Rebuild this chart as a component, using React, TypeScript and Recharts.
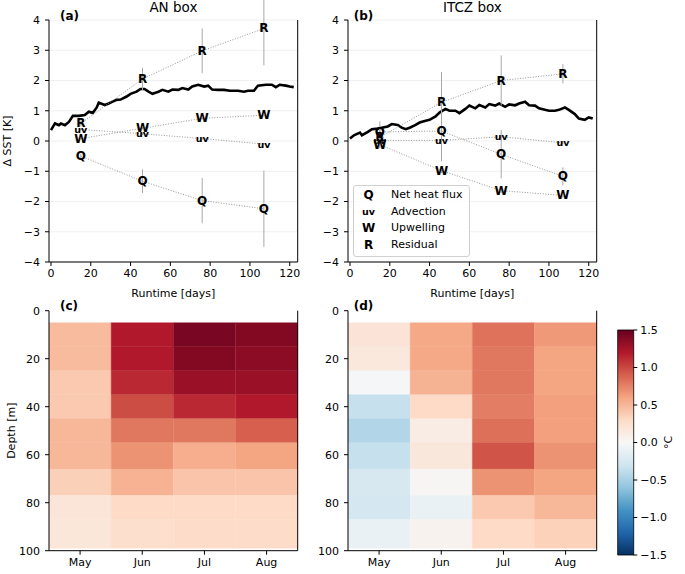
import React from "react";
import {
  ComposedChart,
  BarChart,
  Bar,
  Cell,
  Line,
  XAxis,
  YAxis,
  CartesianGrid,
  ErrorBar,
  Legend,
} from "recharts";

// ---- top panels: SST change (K) vs runtime (days) ----
const sstDaysAN = [0, 2, 4, 5, 7, 9, 11, 14, 17, 19, 21, 23, 24, 27, 29, 31, 33, 35, 38, 40, 43, 45, 47, 49, 51, 54, 56, 59, 61, 64, 66, 69, 71, 74, 77, 79, 81, 84, 87, 90, 94, 97, 99, 102, 104, 108, 111, 113, 115, 118, 120, 122];
const sstAN = [0.36, 0.58, 0.52, 0.58, 0.52, 0.63, 0.83, 0.83, 0.86, 0.97, 0.93, 1.11, 1.27, 1.19, 1.24, 1.3, 1.36, 1.37, 1.47, 1.56, 1.63, 1.72, 1.72, 1.63, 1.56, 1.63, 1.69, 1.63, 1.7, 1.69, 1.75, 1.7, 1.8, 1.86, 1.8, 1.83, 1.7, 1.69, 1.69, 1.66, 1.66, 1.63, 1.66, 1.66, 1.83, 1.86, 1.86, 1.78, 1.86, 1.83, 1.8, 1.78];

const sstDaysITCZ = [0, 2, 5, 6, 9, 11, 14, 16, 19, 21, 24, 26, 28, 30, 33, 35, 38, 40, 43, 45, 48, 50, 53, 55, 58, 60, 63, 65, 68, 70, 73, 75, 78, 80, 83, 85, 88, 90, 93, 95, 98, 100, 103, 105, 108, 110, 113, 115, 118, 120, 122];
const sstITCZ = [0.08, 0.19, 0.28, 0.19, 0.3, 0.39, 0.41, 0.44, 0.48, 0.56, 0.53, 0.44, 0.39, 0.44, 0.53, 0.61, 0.67, 0.7, 0.81, 0.94, 1.06, 1.0, 1.0, 0.92, 1.06, 1.17, 1.08, 1.19, 1.11, 1.22, 1.17, 1.24, 1.13, 1.21, 1.18, 1.24, 1.3, 1.18, 1.17, 1.08, 1.03, 1.0, 1.0, 1.03, 1.11, 1.03, 0.89, 0.74, 0.7, 0.78, 0.74];

// budget terms at mid-month days
const monthDays = [15, 46, 76, 107];

const anQ = [-0.5, -1.33, -1.97, -2.24];
const anQErr = [0.08, 0.39, 0.75, 1.26];
const anUV = [0.38, 0.24, 0.08, -0.1];
const anUVErr = [0.03, 0.04, 0.04, 0.04];
const anW = [0.08, 0.42, 0.75, 0.85];
const anWErr = [0.03, 0.04, 0.04, 0.04];
const anR = [0.58, 2.05, 2.98, 3.72];
const anRErr = [0.1, 0.37, 0.74, 1.22];

const itczQ = [0.3, 0.33, -0.44, -1.17];
const itczQErr = [0.35, 1.0, 0.8, 0.3];
const itczUV = [0.02, 0.02, 0.14, -0.06];
const itczUVErr = [0.05, 0.05, 0.05, 0.05];
const itczW = [-0.12, -0.98, -1.64, -1.8];
const itczWErr = [0.12, 0.08, 0.08, 0.08];
const itczR = [0.12, 1.28, 2.0, 2.22];
const itczRErr = [0.3, 1.0, 0.83, 0.32];

const termMarkers = ["Q", "uv", "W", "R"];
const termNames = ["Net heat flux", "Advection", "Upwelling", "Residual"];

const dayTicks = [0, 20, 40, 60, 80, 100, 120];
const sstTicks = [-4, -3, -2, -1, 0, 1, 2, 3, 4];

// ---- bottom panels: temperature change (°C) by depth and month ----
const months = ["May", "Jun", "Jul", "Aug"];
const layerEdges = [5, 15, 25, 35, 45, 55, 66, 77, 87, 99];
const depthTicks = [0, 20, 40, 60, 80, 100];

const anMay = [0.48, 0.48, 0.4, 0.4, 0.5, 0.5, 0.36, 0.19, 0.18];
const anJun = [1.2, 1.2, 1.13, 0.98, 0.8, 0.68, 0.53, 0.3, 0.26];
const anJul = [1.43, 1.39, 1.3, 1.13, 0.8, 0.55, 0.43, 0.3, 0.28];
const anAug = [1.39, 1.35, 1.3, 1.2, 0.9, 0.6, 0.43, 0.3, 0.29];

const itczMay = [0.2, 0.16, -0.02, -0.35, -0.45, -0.35, -0.25, -0.27, -0.1];
const itczJun = [0.58, 0.58, 0.52, 0.3, 0.12, 0.17, 0.02, -0.1, 0.05];
const itczJul = [0.82, 0.8, 0.8, 0.77, 0.83, 0.95, 0.68, 0.4, 0.3];
const itczAug = [0.65, 0.6, 0.6, 0.62, 0.62, 0.68, 0.6, 0.5, 0.35];

const cbarTicks = [-1.5, -1.0, -0.5, 0, 0.5, 1.0, 1.5];

// RdBu_r, vmin -1.5 .. vmax 1.5
const RDBU_R = ["#053061", "#2166ac", "#4393c3", "#92c5de", "#d1e5f0", "#f7f7f7", "#fddbc7", "#f4a582", "#d6604d", "#b2182b", "#67001f"];

function hexRgb(h: string) {
  return [1, 3, 5].map((i) => parseInt(h.slice(i, i + 2), 16));
}

function cmap(v: number) {
  const t = Math.max(0, Math.min(1, (v + 1.5) / 3));
  const pos = t * 10;
  const i = Math.min(9, Math.floor(pos));
  const f = pos - i;
  const a = hexRgb(RDBU_R[i]);
  const b = hexRgb(RDBU_R[i + 1]);
  const c = a.map((x, k) => Math.round(x + (b[k] - x) * f));
  return `rgb(${c[0]},${c[1]},${c[2]})`;
}

const FONT = "DejaVu Sans";
const tickStyle = { fontSize: 11, fill: "#000", fontFamily: FONT };
const minus = (v: number) => String(v).replace("-", "\u2212");
const markerSize = (m: string) => (m === "uv" ? 9.5 : 12);

const letterDot = (label: string) => (props: any) => {
  const { cx, cy, index } = props;
  if (cx == null || cy == null) return <g key={`${label}-${index}`} />;
  return (
    <text
      key={`${label}-${index}`}
      x={cx}
      y={cy}
      textAnchor="middle"
      dominantBaseline="central"
      fontWeight="bold"
      fontSize={markerSize(label)}
      fontFamily={FONT}
      fill="#000"
    >
      {label}
    </text>
  );
};

const rotatedLabel = (text: string, dx: number) => (props: any) => {
  const vb = props.viewBox || {};
  const x = vb.x + dx;
  const y = vb.y + vb.height / 2;
  return (
    <text x={x} y={y} transform={`rotate(-90 ${x} ${y})`} textAnchor="middle" dominantBaseline="central" fontSize={11} fontFamily={FONT} fill="#000">
      {text}
    </text>
  );
};

function TermLegend() {
  return (
    <div
      style={{
        width: 117,
        height: 72,
        boxSizing: "border-box",
        border: "1px solid #d0d0d0",
        borderRadius: 3,
        background: "rgba(255,255,255,0.85)",
        paddingTop: 1,
        fontFamily: FONT,
        fontSize: 11,
        color: "#000",
      }}
    >
      {termMarkers.map((m, i) => (
        <div key={m} style={{ position: "relative", height: 16.7, lineHeight: "16.7px" }}>
          <span style={{ position: "absolute", left: 0, width: 29, textAlign: "center", fontWeight: "bold", fontSize: markerSize(m) }}>{m}</span>
          <span style={{ position: "absolute", left: 37, whiteSpace: "nowrap" }}>{termNames[i]}</span>
        </div>
      ))}
    </div>
  );
}

interface SstPanelProps {
  days: number[];
  sst: number[];
  terms: { values: number[]; err: number[] }[];
  yLabel?: string;
  legend?: boolean;
}

function SstPanel({ days, sst, terms, yLabel, legend }: SstPanelProps) {
  const sstData = days.map((d, i) => ({ d, v: sst[i] }));
  return (
    <ComposedChart width={310} height={300} margin={{ top: 20, right: 11.3, left: 5, bottom: 2 }}>
      <CartesianGrid horizontal vertical={false} stroke="#ececec" strokeWidth={0.8} />
      <XAxis
        dataKey="d"
        type="number"
        domain={[-1, 124]}
        allowDataOverflow
        ticks={dayTicks}
        height={36}
        tick={tickStyle}
        tickSize={4}
        tickMargin={3}
        stroke="#000"
        label={{ value: "Runtime [days]", position: "insideBottom", offset: 1, fontSize: 11, fill: "#000", fontFamily: FONT }}
      />
      <YAxis
        type="number"
        domain={[-4, 4]}
        allowDataOverflow
        ticks={sstTicks}
        width={44}
        tick={tickStyle}
        tickSize={4}
        tickMargin={5}
        tickFormatter={minus}
        stroke="#000"
        label={yLabel ? { content: rotatedLabel(yLabel, 2) } : undefined}
      />
      <YAxis yAxisId="r" orientation="right" domain={[-4, 4]} width={1} tick={false} tickLine={false} stroke="#000" />
      <Line data={sstData} dataKey="v" stroke="#000" strokeWidth={2.6} dot={false} activeDot={false} isAnimationActive={false} />
      {terms.map((t, k) => (
        <Line
          key={termMarkers[k]}
          data={monthDays.map((d, i) => ({ d, v: t.values[i], e: t.err[i] }))}
          dataKey="v"
          stroke="#8a8a8a"
          strokeWidth={0.9}
          strokeDasharray="1 1.6"
          dot={letterDot(termMarkers[k])}
          activeDot={false}
          isAnimationActive={false}
        >
          <ErrorBar dataKey="e" direction="y" width={0} stroke="#a8a8a8" strokeWidth={1} />
        </Line>
      ))}
      {legend && (
        <Legend
          layout="vertical"
          align="center"
          verticalAlign="middle"
          wrapperStyle={{ position: "absolute", left: 54, top: 185, width: "auto", height: "auto" }}
          content={() => <TermLegend />}
        />
      )}
    </ComposedChart>
  );
}

interface HeatPanelProps {
  cols: number[][];
  yLabel?: string;
}

function HeatPanel({ cols, yLabel }: HeatPanelProps) {
  const rows = months.map((m) => {
    const r: Record<string, any> = { m, gap: layerEdges[0] };
    for (let i = 0; i < layerEdges.length - 1; i++) r["l" + i] = layerEdges[i + 1] - layerEdges[i];
    return r;
  });
  return (
    <BarChart width={310} height={274} data={rows} barCategoryGap={0} barGap={0} margin={{ top: 10.7, right: 11.3, left: 5, bottom: 3.3 }}>
      <XAxis dataKey="m" height={20} tick={tickStyle} tickSize={4} tickMargin={3} stroke="#000" />
      <YAxis
        type="number"
        domain={[0, 100]}
        reversed
        ticks={depthTicks}
        width={44}
        tick={tickStyle}
        tickSize={4}
        tickMargin={5}
        stroke="#000"
        label={yLabel ? { content: rotatedLabel(yLabel, 7) } : undefined}
      />
      <YAxis yAxisId="r" orientation="right" domain={[0, 100]} reversed width={1} tick={false} tickLine={false} stroke="#000" />
      <Bar dataKey="gap" stackId="s" fill="none" isAnimationActive={false} />
      {layerEdges.slice(0, -1).map((_, i) => (
        <Bar key={i} dataKey={"l" + i} stackId="s" isAnimationActive={false}>
          {cols.map((c, j) => (
            <Cell key={j} fill={cmap(c[i])} stroke={cmap(c[i])} strokeWidth={0.4} />
          ))}
        </Bar>
      ))}
    </BarChart>
  );
}

function ColorBar() {
  const data = [{ k: "cb", range: [cbarTicks[0], cbarTicks[cbarTicks.length - 1]] }];
  return (
    <BarChart width={85} height={250} data={data} barCategoryGap={0} margin={{ top: 10, right: 11.7, left: 17.7, bottom: 15 }}>
      <defs>
        <linearGradient id="rdbu" x1="0" y1="1" x2="0" y2="0">
          {RDBU_R.map((c, i) => (
            <stop key={i} offset={`${i * 10}%`} stopColor={c} />
          ))}
        </linearGradient>
      </defs>
      <XAxis dataKey="k" hide />
      <YAxis
        orientation="right"
        type="number"
        domain={[-1.5, 1.5]}
        ticks={cbarTicks}
        width={40}
        tick={tickStyle}
        tickSize={4}
        tickMargin={3}
        tickFormatter={(v: number) => minus(Number(v).toFixed(1) as any)}
        axisLine={false}
        stroke="#000"
        label={{ content: rotatedLabel("\u00b0C", 35) }}
      />
      <Bar dataKey="range" fill="url(#rdbu)" stroke="#000" strokeWidth={0.8} isAnimationActive={false} />
    </BarChart>
  );
}

const txt = (s: string, x: number, y: number, size: number, bold = false) => (
  <div
    style={{
      position: "absolute",
      left: x,
      top: y,
      transform: "translate(-50%, -50%)",
      fontSize: size,
      fontWeight: bold ? "bold" : "normal",
      fontFamily: FONT,
      lineHeight: 1,
      whiteSpace: "nowrap",
      color: "#000",
    }}
  >
    {s}
  </div>
);

export default function App() {
  const anTerms = [
    { values: anQ, err: anQErr },
    { values: anUV, err: anUVErr },
    { values: anW, err: anWErr },
    { values: anR, err: anRErr },
  ];
  const itczTerms = [
    { values: itczQ, err: itczQErr },
    { values: itczUV, err: itczUVErr },
    { values: itczW, err: itczWErr },
    { values: itczR, err: itczRErr },
  ];
  return (
    <div style={{ position: "absolute", left: 0, top: 0, width: 685, height: 574, background: "#fff", fontFamily: FONT }}>
      <div style={{ position: "absolute", left: 0, top: 0 }}>
        <SstPanel days={sstDaysAN} sst={sstAN} terms={anTerms} yLabel={"\u0394 SST [K]"} />
      </div>
      <div style={{ position: "absolute", left: 299, top: 0 }}>
        <SstPanel days={sstDaysITCZ} sst={sstITCZ} terms={itczTerms} legend />
      </div>
      <div style={{ position: "absolute", left: 0, top: 300 }}>
        <HeatPanel cols={[anMay, anJun, anJul, anAug]} yLabel="Depth [m]" />
      </div>
      <div style={{ position: "absolute", left: 299, top: 300 }}>
        <HeatPanel cols={[itczMay, itczJun, itczJul, itczAug]} />
      </div>
      <div style={{ position: "absolute", left: 600, top: 320 }}>
        <ColorBar />
      </div>
      {txt("AN box", 173.4, 8, 13.5)}
      {txt("ITCZ box", 472.4, 8, 13.5)}
      {txt("(a)", 69.5, 16, 12, true)}
      {txt("(b)", 363.5, 16, 12, true)}
      {txt("(c)", 69, 306, 12, true)}
      {txt("(d)", 363.5, 306, 12, true)}
    </div>
  );
}
